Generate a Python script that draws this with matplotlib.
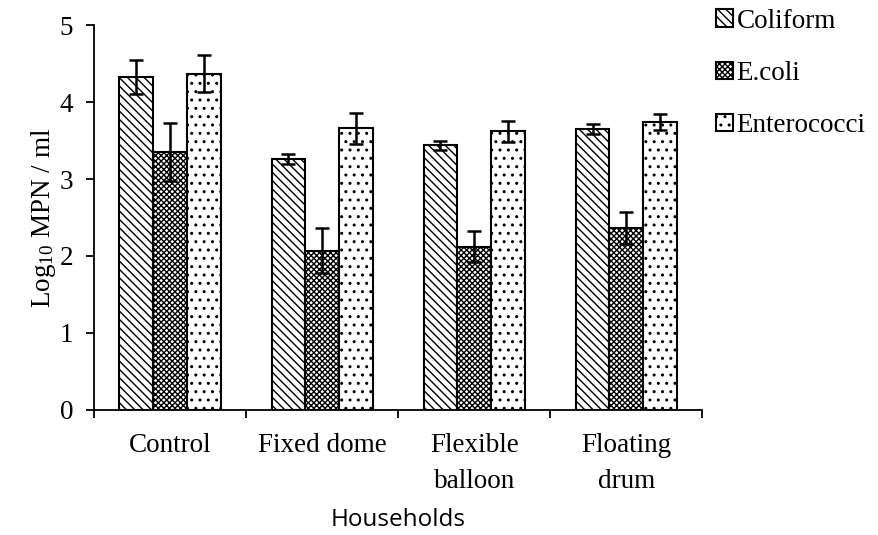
import matplotlib
matplotlib.use("Agg")
import matplotlib.pyplot as plt
from matplotlib import font_manager as fm
import numpy as np
from matplotlib.patches import Patch

categories = ["Control", "Fixed dome", "Flexible\nballoon", "Floating\ndrum"]
series = ["Coliform", "E.coli", "Enterococci"]
coliform = [4.33, 3.26, 3.44, 3.65]
coliform_err = [0.22, 0.06, 0.06, 0.06]
ecoli = [3.35, 2.07, 2.12, 2.36]
ecoli_err = [0.38, 0.29, 0.20, 0.21]
entero = [4.37, 3.66, 3.62, 3.74]
entero_err = [0.24, 0.20, 0.14, 0.10]
yticks = [0, 1, 2, 3, 4, 5]

values = [coliform, ecoli, entero]
errors = [coliform_err, ecoli_err, entero_err]
hatches = ["\\\\\\\\", "xxxxxx", ".."]

names = sorted({f.name for f in fm.fontManager.ttflist})
serif = None
for cand in ["Liberation Serif", "Times New Roman", "Nimbus Roman", "TeX Gyre Termes", "FreeSerif"]:
    if cand in names:
        serif = cand
        break
if serif is None:
    serif = "DejaVu Serif"

plt.rcParams["font.family"] = [serif, "DejaVu Serif"]
plt.rcParams["mathtext.fontset"] = "custom"
plt.rcParams["mathtext.rm"] = serif
plt.rcParams["mathtext.it"] = serif + ":italic"
plt.rcParams["hatch.linewidth"] = 1.0

fig = plt.figure(figsize=(8.79, 5.35), dpi=100)
ax = fig.add_axes([0.107, 0.234, 0.692, 0.719])

x = np.arange(len(categories))
w = 0.222
for i, (vals, errs, h) in enumerate(zip(values, errors, hatches)):
    ax.bar(x + (i - 1) * w, vals, w, color="white", edgecolor="black",
           hatch=h, linewidth=1.5, label=series[i], zorder=2)
    ax.errorbar(x + (i - 1) * w, vals, yerr=errs, fmt="none", ecolor="black",
                elinewidth=1.8, capsize=5, capthick=1.8, zorder=3)

ax.set_xlim(-0.5, len(categories) - 0.5)
ax.set_ylim(0, 5)
ax.set_yticks(yticks)
ax.set_yticklabels([str(t) for t in yticks], fontsize=19.5)
ax.set_xticks(x)
ax.set_xticklabels(categories, fontsize=19.5, linespacing=1.55)
ax.set_xticks(np.arange(-0.5, len(categories), 1.0), minor=True)
ax.tick_params(axis="x", which="major", length=0, pad=17)
ax.tick_params(axis="x", which="minor", length=6, width=1.3, direction="out")
ax.tick_params(axis="y", length=6, width=1.3, direction="out", pad=9)
for s in ["top", "right"]:
    ax.spines[s].set_visible(False)
for s in ["left", "bottom"]:
    ax.spines[s].set_linewidth(1.3)

ax.set_ylabel("Log$_{10}$ MPN / ml", fontsize=19.5, labelpad=1)
ax.set_xlabel("Households", fontsize=17.5, family=["Open Sans", "DejaVu Sans"], labelpad=10)

handles = [Patch(facecolor="white", edgecolor="black", hatch=h, linewidth=1.5) for h in hatches]
fig.legend(handles, series, loc="upper left", bbox_to_anchor=(0.812, 0.989),
           frameon=False, fontsize=19.5, handlelength=0.6, handleheight=0.6,
           handletextpad=0.15, labelspacing=1.0, borderpad=0.1, borderaxespad=0)

fig.savefig("out.png", dpi=100)
